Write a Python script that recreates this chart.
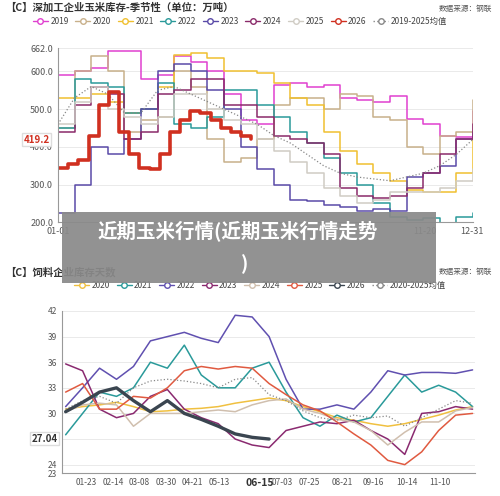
import numpy as np, pandas as pd, seaborn as sns, matplotlib
matplotlib.use("Agg")
import matplotlib.pyplot as plt
from matplotlib.lines import Line2D
from matplotlib.patches import Rectangle

sns.set_style("white")
plt.rcParams['font.family'] = ['Noto Sans CJK SC', 'DejaVu Sans']

# ---- top chart data (万吨), days of year ----
top_days = np.linspace(0, 365, 26)
top_2019 = [590,600,610,655,655,580,590,640,625,600,540,470,460,565,570,560,565,530,525,520,535,475,460,430,425,495]
top_2020 = [450,600,640,600,440,470,480,600,560,420,360,370,420,510,530,530,500,540,535,480,470,400,380,430,440,525]
top_2021 = [530,530,540,520,490,500,560,645,650,635,600,600,595,570,530,510,440,390,355,330,310,285,280,280,330,440]
top_2022 = [450,580,570,560,490,500,570,460,450,480,550,550,510,480,440,410,370,330,300,250,215,205,210,195,215,225]
top_2023 = [225,300,400,380,420,500,600,620,600,550,500,400,340,300,260,255,245,240,230,235,230,320,330,350,420,440]
top_2024 = [440,510,560,540,420,440,540,550,580,580,510,510,480,430,420,410,380,290,270,265,270,290,330,380,420,460]
top_2025 = [460,520,560,500,480,460,480,540,540,500,470,460,420,390,360,330,290,270,250,260,280,280,280,290,310,340]
top_avg  = [460,530,560,540,490,490,550,560,540,520,500,480,460,430,410,380,350,330,320,315,310,320,330,350,380,420]
top_2026_days = np.linspace(0, 170, 20)
top_2026 = [345,355,365,430,510,545,440,380,345,340,380,440,470,495,490,470,450,440,430,420]
top_ticks = [0, 323, 364]
top_ticklabels = ["01-01", "11-20", "12-31"]

# ---- bottom chart data (天), days of year ----
bot_days = np.arange(5, 342, 14)
bot_2020 = [30.5,30.8,31.0,31.3,30.8,30.2,30.3,30.5,30.6,30.8,31.2,31.5,31.8,31.5,30.8,30.2,29.5,29.2,28.8,28.5,28.8,29.3,29.8,30.4,30.8]
bot_2021 = [27.5,30,32.5,32,33,36,35.3,38,34.5,33,33,35.3,36,32.5,29.5,28.5,29.8,29,29.5,32,34.5,32.5,33.3,32.5,30.8]
bot_2022 = [30.8,33,35.3,34,35.5,38.5,39,39.5,38.8,38.3,41.5,41.3,39,34,30.5,30.5,31,30.5,32.5,35,34.5,34.8,34.8,34.7,35.1]
bot_2023 = [35.8,35,30.5,29.5,30,32,32.8,30.5,29.5,28.8,27,26.3,26,28,28.5,29,28.8,29.2,28,27,25.2,30,30.2,30.8,30.5]
bot_2024 = [30.2,31,31.2,31,28.5,30,30,30,30.2,30.4,30.2,31,31.5,31.7,30.5,30,29.3,29,28,26.3,27.8,29,29,30.3,30.7]
bot_2025 = [32.5,33.5,30.5,30.5,32,31.8,33,35,35.5,35.2,35.5,35.3,33.5,32.2,31,30.3,29,27.6,26.3,24.5,24,25.5,28,29.8,30]
bot_avg  = [30.5,31.5,32,31.2,33,33.8,34,33.8,33.5,33,34,34.2,32.2,31.5,30.3,29.5,29.2,29.8,29.5,29.7,28.5,29.5,30.5,31.5,31.2]
bot_2026_days = np.arange(5, 175, 14)[:13]
bot_2026 = [30.2,31.3,32.5,33,31.5,30.2,31.5,30,29.3,28.5,27.6,27.2,27.0]
bot_ticks = [22,44,66,88,110,132,165,184,206,233,259,287,314]
bot_ticklabels = ["01-23","02-14","03-08","03-30","04-21","05-13","06-15","07-03","07-25","08-21","09-16","10-14","11-10"]

fig = plt.figure(figsize=(5, 4.96), dpi=100)
fig.patch.set_facecolor("white")

def legend(ax, items, y, x0, x1):
    handles = [Line2D([], [], color=c, marker='o', mfc='white', ms=4, lw=1, ls=':' if lab.endswith('均值') else '-') for lab, c in items]
    fig.legend(handles, [l for l, _ in items], loc='center', bbox_to_anchor=((x0+x1)/2, y), ncol=len(items),
               frameon=False, fontsize=6, handlelength=1.8, columnspacing=0.8, handletextpad=0.3, labelcolor='#444')

# top
ax1 = fig.add_axes([0.116, 0.552, 0.83, 0.351])
top = [("2019", top_2019, '#e040d0'), ("2020", top_2020, '#c8b08a'), ("2021", top_2021, '#f0c030'),
       ("2022", top_2022, '#2a9a9a'), ("2023", top_2023, '#5a4aa8'), ("2024", top_2024, '#8a2a6a'),
       ("2025", top_2025, '#d0ccc4')]
for lab, v, c in top:
    sns.lineplot(x=top_days, y=v, ax=ax1, color=c, lw=1.1, drawstyle='steps-post')
sns.lineplot(x=top_days, y=top_avg, ax=ax1, color='#888', lw=0.9, ls=':')
sns.lineplot(x=top_2026_days, y=top_2026, ax=ax1, color='#d03020', lw=2.6, drawstyle='steps-post')
ax1.set_ylim(200, 662); ax1.set_xlim(0, 365)
ax1.set_yticks([200, 300, 400, 500, 600, 662]); ax1.set_yticklabels(["200.0","300.0","400.0","500.0","600.0","662.0"])
ax1.set_xticks(top_ticks); ax1.set_xticklabels(top_ticklabels)
ax1.grid(axis='y', color='#e6e6e6', lw=0.6)
ax1.tick_params(labelsize=6.5, colors='#555', length=0)
for s in ['top', 'right']: ax1.spines[s].set_visible(False)
ax1.spines['left'].set_color('#999'); ax1.spines['bottom'].set_color('#999')
ax1.text(-0.02, 419.2, "419.2", transform=ax1.get_yaxis_transform(), ha='right', va='center', fontsize=7,
         color='#d03020', fontweight='bold', bbox=dict(fc='white', ec='#ddd', pad=1))
fig.text(0.01, 0.985, "【C】深加工企业玉米库存-季节性（单位：万吨）", fontsize=7.5, fontweight='bold', color='#333', va='center')
fig.text(0.985, 0.982, "数据来源：钢联", fontsize=5.5, color='#555', va='center', ha='right')
legend(ax1, [(l, c) for l, _, c in top] + [("2026", '#d03020'), ("2019-2025均值", '#888')], 0.957, 0.0, 0.96)

# bottom
ax2 = fig.add_axes([0.124, 0.046, 0.826, 0.327])
bot = [("2020", bot_2020, '#f0c040'), ("2021", bot_2021, '#2a9a9a'), ("2022", bot_2022, '#6050b0'),
       ("2023", bot_2023, '#8a2a70'), ("2024", bot_2024, '#d0bfae'), ("2025", bot_2025, '#e05a40')]
for lab, v, c in bot:
    sns.lineplot(x=bot_days, y=v, ax=ax2, color=c, lw=1.1)
sns.lineplot(x=bot_days, y=bot_avg, ax=ax2, color='#888', lw=0.9, ls=':')
sns.lineplot(x=bot_2026_days, y=bot_2026, ax=ax2, color='#3a4550', lw=2.4)
ax2.set_ylim(23, 42); ax2.set_xlim(2, 343)
ax2.set_yticks([23, 24, 27, 30, 33, 36, 39, 42])
ax2.set_yticklabels(["23", "24", "", "30", "33", "36", "39", "42"])
ax2.set_xticks(bot_ticks); ax2.set_xticklabels(bot_ticklabels)
ax2.grid(axis='y', color='#e6e6e6', lw=0.6)
ax2.tick_params(labelsize=6, colors='#555', length=0)
for s in ['top', 'right']: ax2.spines[s].set_visible(False)
ax2.spines['left'].set_color('#999'); ax2.spines['bottom'].set_color('#999')
for t in ax2.get_xticklabels():
    if t.get_text() == "06-15":
        t.set_fontweight('bold'); t.set_fontsize(7.5); t.set_color('#333')
ax2.text(-0.01, 27.04, "27.04", transform=ax2.get_yaxis_transform(), ha='right', va='center', fontsize=7,
         color='#333', fontweight='bold', bbox=dict(fc='white', ec='#ddd', pad=1))
fig.text(0.01, 0.451, "【C】饲料企业库存天数", fontsize=7.5, fontweight='bold', color='#333', va='center')
fig.text(0.985, 0.451, "数据来源：钢联", fontsize=5.5, color='#555', va='center', ha='right')
legend(ax2, [(l, c) for l, _, c in bot] + [("2026", '#3a4550'), ("2020-2025均值", '#888')], 0.425, 0.1, 0.94)

# overlay banner
fig.patches.append(Rectangle((0.124, 0.43), 0.748, 0.142, transform=fig.transFigure, fc='#8a8a8a', ec='none', alpha=0.93, zorder=10))
fig.text(0.475, 0.535, "近期玉米行情(近期玉米行情走势", fontsize=14, fontweight='bold', color='white', ha='center', va='center', zorder=11)
fig.text(0.49, 0.468, ")", fontsize=14, fontweight='bold', color='white', ha='center', va='center', zorder=11)

fig.savefig("out.png", dpi=100)
